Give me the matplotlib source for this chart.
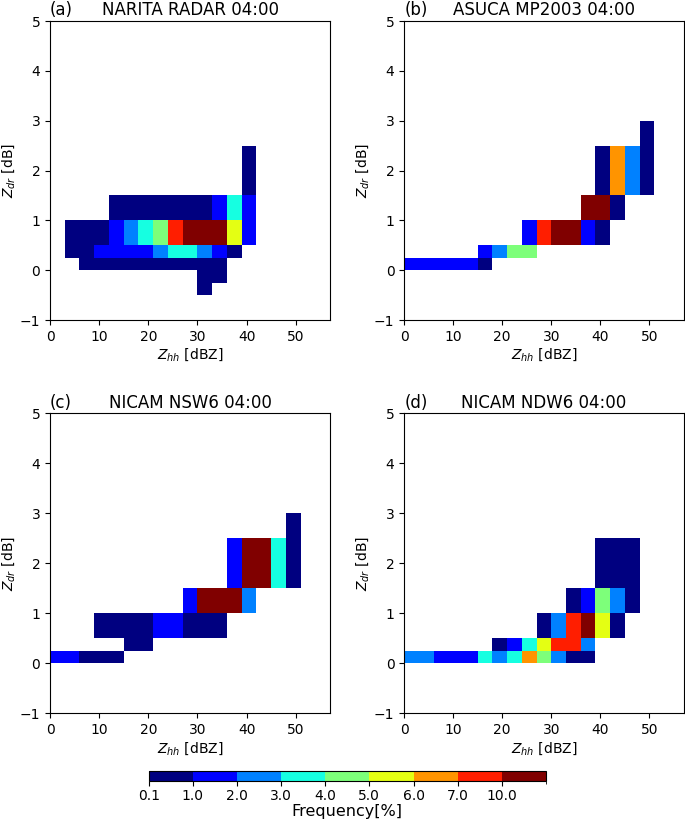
import matplotlib
matplotlib.use('Agg')
import matplotlib.pyplot as plt
from matplotlib.colors import ListedColormap, BoundaryNorm
import numpy as np

# bin edges of the 2D histograms
zhh_edges = [0, 3, 6, 9, 12, 15, 18, 21, 24, 27, 30, 33, 36, 39, 42, 45, 48, 51]
zdr_edges = [-0.5, -0.25, 0, 0.25, 0.5, 1.0, 1.5, 2.0, 2.5, 3.0]

# frequency classes (colour levels) and a representative value for each
levels = [0.1, 1, 2, 3, 4, 5, 6, 7, 10, 15]
level_labels = ['0.1', '1.0', '2.0', '3.0', '4.0', '5.0', '6.0', '7.0', '10.0']
class_freq = [0.5, 1.5, 2.5, 3.5, 4.5, 5.5, 6.5, 8.5, 12.0]

titles = ['NARITA RADAR 04:00', 'ASUCA MP2003 04:00',
          'NICAM NSW6 04:00', 'NICAM NDW6 04:00']
tags = ['(a)', '(b)', '(c)', '(d)']

# rows from Zdr=-0.5 upward, one char per Zhh bin ('.' = no data, digit = class)
radar = ['..........0......',
         '..........00.....',
         '..0000000000.....',
         '.001111233210....',
         '.0001234788851...',
         '....0000000131...',
         '.............0...',
         '.............0...',
         '.................']
asuca = ['.................',
         '.................',
         '111110...........',
         '.....1244........',
         '........178810...',
         '............880..',
         '.............0620',
         '.............0620',
         '................0']
nsw6 = ['.................',
        '.................',
        '11000............',
        '.....00..........',
        '...000011000.....',
        '.........18882...',
        '............18830',
        '............18830',
        '................0']
ndw6 = ['.................',
        '.................',
        '2211132364200....',
        '......0135772....',
        '.........027850..',
        '...........01420.',
        '.............000.',
        '.............000.',
        '.................']
panels = [radar, asuca, nsw6, ndw6]


def to_freq(rows):
    out = np.full((len(rows), len(rows[0])), np.nan)
    for i, r in enumerate(rows):
        for j, c in enumerate(r):
            if c != '.':
                out[i, j] = class_freq[int(c)]
    return np.ma.masked_invalid(out)


cmap = ListedColormap(plt.cm.jet(np.linspace(0, 1, 9)))
norm = BoundaryNorm(levels, cmap.N)

fig = plt.figure(figsize=(6.85, 8.25), dpi=100)
boxes = [[0.073, 0.612, 0.409, 0.3625],
         [0.590, 0.612, 0.408, 0.3625],
         [0.073, 0.1355, 0.409, 0.3636],
         [0.590, 0.1355, 0.408, 0.3636]]

for k in range(4):
    ax = fig.add_axes(boxes[k])
    pc = ax.pcolormesh(zhh_edges, zdr_edges, to_freq(panels[k]),
                       cmap=cmap, norm=norm, shading='flat')
    ax.set_xlim(0, 57)
    ax.set_ylim(-1, 5)
    ax.set_xticks([0, 10, 20, 30, 40, 50])
    ax.set_yticks([-1, 0, 1, 2, 3, 4, 5])
    ax.set_xlabel('$Z_{hh}$ [dBZ]', fontsize=10, labelpad=2)
    ax.set_ylabel('$Z_{dr}$ [dB]', fontsize=10, labelpad=2)
    ax.set_title(titles[k], fontsize=12, pad=4)
    ax.set_title(tags[k], loc='left', fontsize=12, pad=4)

cax = fig.add_axes([0.217, 0.0535, 0.580, 0.0115])
cb = fig.colorbar(pc, cax=cax, orientation='horizontal', ticks=levels[:-1])
cb.ax.set_xticklabels(level_labels)
cb.ax.tick_params(labelsize=10, pad=2)
cb.set_label('Frequency[%]', fontsize=11.5, labelpad=1)

fig.savefig('out.png', dpi=100)
